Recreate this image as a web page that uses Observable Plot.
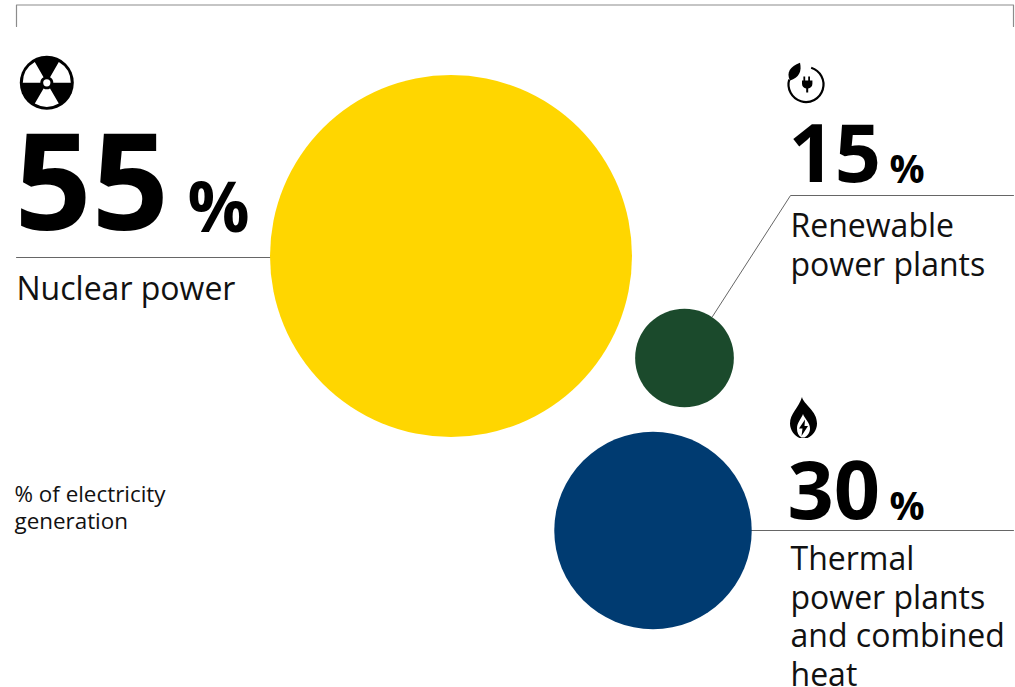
<!DOCTYPE html>
<html>
<head>
<meta charset="utf-8">
<script src="https://cdn.jsdelivr.net/npm/d3@7"></script>
<script src="https://cdn.jsdelivr.net/npm/@observablehq/plot@0.6"></script>
<style>
  html, body { margin: 0; padding: 0; background: #fff; }
  svg { display: block; font-family: "Open Sans", sans-serif; }
</style>
</head>
<body>
<div id="chart"></div>
<script>
// Share of electricity generation by source
const sources = ["Nuclear power", "Renewable power plants", "Thermal power plants and combined heat"];
const shares = [55, 15, 30];
const fills = ["#ffd600", "#1b4a2c", "#003b71"];

// Bubble layout on a 1015 x 687 page grid
const centreX = [450.5, 684, 652.5];
const centreY = [255.5, 357.5, 530];

const bubbles = sources.map((s, i) => ({source: s, share: shares[i], x: centreX[i], y: centreY[i], fill: fills[i]}));

// Big figures, their percent signs and the description lines
const figureX = [14, 788, 787];
const figureY = [229.5, 181.5, 518.5];
const figureSize = [135, 81, 81];
const percentX = [187, 889, 889];
const percentY = [231, 182, 519];
const percentSize = [69, 39, 39];
const labelLines = [
  ["Nuclear power", 16, 299],
  ["Renewable", 790, 236],
  ["power plants", 790, 275],
  ["Thermal", 790, 569],
  ["power plants", 790, 608],
  ["and combined", 790, 646],
  ["heat", 790, 685]
];
const unitLines = [
  ["% of electricity", 14, 501],
  ["generation", 14, 528]
];

// Leader lines from each figure to its bubble
const leaders = [
  [[16, 257], [270, 257]],
  [[1013, 195], [790, 195], [712, 316]],
  [[749, 530], [1013, 530]]
];
const frame = [[16, 26], [16, 4.5], [1013, 4.5], [1013, 26]];

const figures = shares.map((v, i) => ({
  v, x: figureX[i], y: figureY[i], size: figureSize[i],
  px: percentX[i], py: percentY[i], psize: percentSize[i]
}));

// Icons, drawn in their own local coordinates and placed through the x/y scales
function radiationIcon(g) {
  g.append("circle").attr("r", 27).attr("fill", "#000");
  const wedge = d3.arc().innerRadius(6.5).outerRadius(24);
  [60, 180, 300].forEach(a => {
    g.append("path")
      .attr("fill", "#fff")
      .attr("d", wedge({startAngle: (a - 30) * Math.PI / 180, endAngle: (a + 30) * Math.PI / 180}));
  });
  g.append("circle").attr("r", 3.6).attr("fill", "#fff");
}

function renewableIcon(g) {
  g.append("path")
    .attr("fill", "none").attr("stroke", "#000").attr("stroke-width", 2.2).attr("stroke-linecap", "round")
    .attr("d", d3.arc().innerRadius(17.5).outerRadius(17.5)({startAngle: 0.3, endAngle: 5.0}));
  g.append("path")
    .attr("fill", "#000")
    .attr("d", "M-6,-21.8 C-4,-13 -7,-7 -16,-4 C-20,-12 -16,-18 -6,-21.8 Z");
  g.append("path")
    .attr("fill", "#000")
    .attr("d", "M-2.6,-8 h1.8 v4 h3 v-4 h1.8 v4 h2.4 v3.2 c0,3 -2,4.4 -4.2,4.8 v4 h-2 v-4 c-2.2,-.4 -4.2,-1.8 -4.2,-4.8 v-3.2 h1.4 Z");
}

function flameIcon(g) {
  g.append("path")
    .attr("fill", "#000")
    .attr("d", "M-1.5,-20.5 C0,-13 13.5,-7 13.5,6 C13.5,13 9,18 4,20.5 L-4,20.5 C-9,18 -13.5,13 -13.5,6 C-13.5,-4 -5,-9 -1.5,-20.5 Z");
  g.append("path")
    .attr("fill", "#fff")
    .attr("d", "M-0.5,-3.5 C1,1 6.5,5 6.5,11 C6.5,15 4,18.5 1,20 L-2,20 C-5,18.5 -6.5,15 -6.5,11 C-6.5,5 -2,1 -0.5,-3.5 Z");
  g.append("path")
    .attr("fill", "#000")
    .attr("d", "M1.5,2 L-4.5,11 L-1,11 L-2,18.5 L4.5,8.5 L1,8.5 Z");
}

const icons = [
  {draw: radiationIcon, x: 46.8, y: 82.8},
  {draw: renewableIcon, x: 806, y: 84.5},
  {draw: flameIcon, x: 803.5, y: 417.5}
];

const iconMark = (index, {x, y}) => {
  const root = d3.create("svg:g");
  for (const icon of icons) {
    icon.draw(root.append("g").attr("transform", `translate(${x(icon.x)},${y(icon.y)})`));
  }
  return root.node();
};

const lineMark = (points, options) => Plot.line(points, {x: d => d[0], y: d => d[1], curve: "linear", ...options});
const textLine = (rows, size, weight = 400) => Plot.text(rows, {
  x: d => d[1], y: d => d[2], text: d => d[0],
  textAnchor: "start", lineAnchor: "bottom", fontSize: size, fontWeight: weight, fill: "#111"
});

const chart = Plot.plot({
  width: 1015,
  height: 687,
  margin: 0,
  x: {domain: [0, 1015], range: [0, 1015], axis: null},
  y: {domain: [0, 687], range: [0, 687], axis: null},
  r: {type: "linear", domain: [0, 55], range: [0, 181]},
  marks: [
    lineMark(frame, {stroke: "#8c8c8c", strokeWidth: 1.2}),
    ...leaders.map(l => lineMark(l, {stroke: "#666", strokeWidth: 1})),
    Plot.dot(bubbles, {x: "x", y: "y", r: "share", fill: d => d.fill, stroke: null}),
    ...figures.map(f => Plot.text([f], {
      x: "x", y: "y", text: d => String(d.v), textAnchor: "start", lineAnchor: "bottom",
      fontSize: f.size, fontWeight: 700, fill: "#000"
    })),
    ...figures.map(f => Plot.text([f], {
      x: "px", y: "py", text: () => "%", textAnchor: "start", lineAnchor: "bottom",
      fontSize: f.psize, fontWeight: 700, fill: "#000"
    })),
    textLine(labelLines, 32),
    textLine(unitLines, 22.4),
    iconMark
  ]
});

document.getElementById("chart").append(chart);
</script>
</body>
</html>
